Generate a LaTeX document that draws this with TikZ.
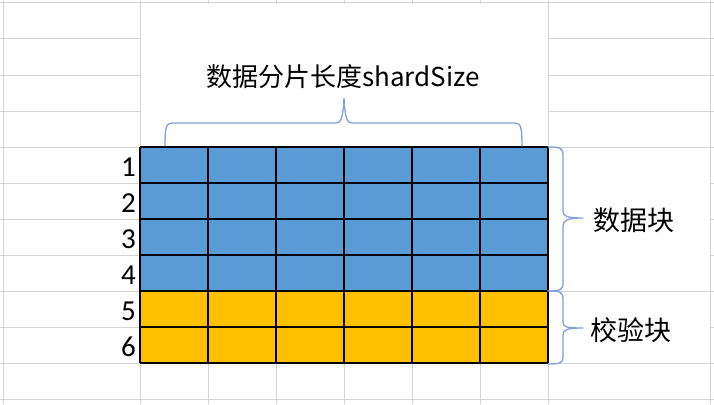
\documentclass[tikz,border=0pt]{standalone}
\usepackage{fontspec}
\setmainfont{Carlito}
\newfontfamily\cjk{Noto Sans CJK SC}
\usetikzlibrary{positioning}
\definecolor{datablue}{HTML}{5B9BD5}
\definecolor{parityorange}{HTML}{FFC000}
\definecolor{sheetgray}{HTML}{D4D4D4}
\definecolor{bracecol}{rgb}{0.50,0.63,0.85}
\tikzset{
  sheetline/.style={sheetgray, line width=1pt},
  cellline/.style={black, line width=1.1pt},
  bracebar/.style={bracecol, line width=1.3pt, line cap=round},
  rownum/.style={anchor=east, inner sep=0pt, font=\fontsize{29}{32}\selectfont},
  cjklabel/.style={inner sep=0pt, font=\cjk\fontsize{27}{30}\selectfont},
}

\begin{document}
\begin{tikzpicture}[x=1pt, y=-1pt, line join=round]
    \useasboundingbox (0,0) rectangle (714,404);
    \fill[white] (0,0) rectangle (714,404);

    % Spreadsheet background
    \foreach \xx in {3,140,208,276,344,412,480,548,710}
      \draw[sheetline] (\xx,0) -- (\xx,404);
    \foreach \yy in {3,39,75,111,147,183,219,255,291,327,363,399}
      \draw[sheetline] (0,\yy) -- (714,\yy);

    % Text boxes hide the sheet lines
    \fill[white] (141,4) rectangle (547.5,146.5);
    \fill[white] (549,148) rectangle (709.5,290.5);
    \fill[white] (549,292) rectangle (709.5,362.5);

    % Data rows (1-4) and parity rows (5-6)
    \fill[datablue] (140,147) rectangle (548,291);
    \fill[parityorange] (140,291) rectangle (548,363);
    \foreach \xx in {140,208,276,344,412,480,548}
      \draw[cellline] (\xx,147) -- (\xx,363);
    \foreach \yy in {147,183,219,255,291,327,363}
      \draw[cellline] (140,\yy) -- (548,\yy);

    % Row numbers
    \foreach \r in {1,...,6}
      \node[rownum] (row\r) at (136, 131+36*\r) {\r};

    % Labels
    \node[cjklabel, font=\cjk\fontsize{26}{30}\selectfont] (shardlen) at (343,77) {数据分片长度shardSize};
    \node[cjklabel] (datalbl) at (634,220) {数据块};
    \node[cjklabel] (paritylbl) at (631,330) {校验块};

    % Brace over the columns
    \coordinate (topL) at (165,146);
    \coordinate (topR) at (522,146);
    \draw[bracebar] (topL) .. controls (165,128) and (166,123) .. (172,123) -- (336,123)
      .. controls (341,123) and (343,118) .. (344,98)
      .. controls (345,118) and (347,123) .. (352,123) -- (515,123)
      .. controls (521,123) and (522,128) .. (topR);

    % Brace beside the data rows
    \coordinate (dataT) at (548,147);
    \coordinate (dataB) at (548,291);
    \draw[bracebar] (dataT) .. controls (560,147) and (563,148) .. (563,155) -- (563,211)
      .. controls (563,216) and (566,218) .. (583,218)
      .. controls (566,218) and (563,221) .. (563,226) -- (563,283)
      .. controls (563,290) and (560,291) .. (dataB);

    % Brace beside the parity rows
    \coordinate (parT) at (548,291);
    \coordinate (parB) at (548,364);
    \draw[bracebar] (parT) .. controls (560,291) and (563,292) .. (563,299) -- (563,322)
      .. controls (563,327) and (566,328) .. (583,328)
      .. controls (566,328) and (563,330) .. (563,335) -- (563,357)
      .. controls (563,363) and (560,364) .. (parB);
\end{tikzpicture}
\end{document}
